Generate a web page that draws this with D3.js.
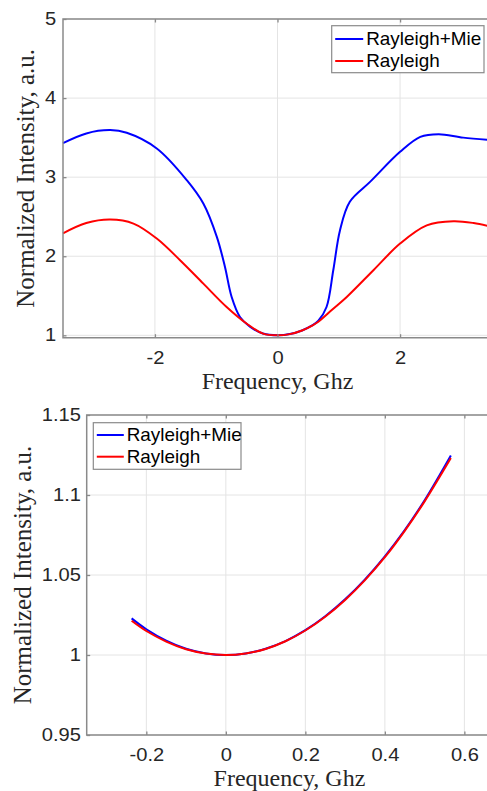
<!DOCTYPE html>
<html>
<head>
<meta charset="utf-8">
<script src="https://cdn.jsdelivr.net/npm/d3@7"></script>
<style>
  body { margin: 0; background: #fff; }
  svg { display: block; }
</style>
</head>
<body>
<svg id="chart" width="487" height="791"></svg>
<script>
// ---- Full spectrum (upper panel) ----
const fullMieFreq = [-3.5, -3.12, -2.73, -2.46, -1.97, -1.48, -1.21, -0.99, -0.857, -0.748,
  -0.612, -0.45, -0.237, 0, 0.2, 0.4, 0.566, 0.667, 0.8, 0.91, 1.02, 1.18, 1.51, 2.0, 2.33,
  2.63, 3.03, 3.5];
const fullMie = [3.43, 3.553, 3.595, 3.561, 3.363, 2.962, 2.667, 2.245, 1.865, 1.485,
  1.232, 1.11, 1.0229, 1.0, 1.0155, 1.0617, 1.1247, 1.185, 1.358, 1.823, 2.33, 2.69, 2.94, 3.32, 3.51,
  3.544, 3.50, 3.47];
const fullRayFreq = [-3.5, -3.12, -2.73, -2.35, -1.97, -1.59, -1.21, -0.83, -0.5, -0.237, 0,
  0.2, 0.4, 0.566, 0.667, 0.9, 1.13, 1.565, 2.0, 2.435, 2.87, 3.2, 3.5];
const fullRay = [2.29, 2.42, 2.464, 2.413, 2.224, 1.95, 1.654, 1.358, 1.146, 1.0214, 1.0,
  1.0153, 1.0611, 1.1231, 1.172, 1.33, 1.485, 1.823, 2.16, 2.39, 2.443, 2.42, 2.37];
const fullXTicks = [-2, 0, 2];
const fullXLabels = ["-2", "0", "2"];
const fullYTicks = [1, 2, 3, 4, 5];
const fullYLabels = ["1", "2", "3", "4", "5"];

// ---- Central region (lower panel) ----
const zoomFreq = [-0.237, -0.2, -0.15, -0.1, -0.05, 0, 0.05, 0.1, 0.15, 0.2, 0.25, 0.3, 0.35,
  0.4, 0.45, 0.5, 0.566];
const zoomMie = [1.0229, 1.0161, 1.0090, 1.0039, 1.0010, 1.0, 1.0010, 1.0039, 1.0087, 1.0155,
  1.0242, 1.0348, 1.0473, 1.0617, 1.0781, 1.0967, 1.1247];
const zoomRay = [1.0214, 1.0150, 1.0084, 1.0036, 1.0009, 1.0, 1.0010, 1.0038, 1.0086, 1.0153,
  1.0239, 1.0344, 1.0468, 1.0611, 1.0776, 1.0960, 1.1231];
const zoomXTicks = [-0.2, 0, 0.2, 0.4, 0.6];
const zoomXLabels = ["-0.2", "0", "0.2", "0.4", "0.6"];
const zoomYTicks = [0.95, 1, 1.05, 1.1, 1.15];
const zoomYLabels = ["0.95", "1", "1.05", "1.1", "1.15"];

const seriesNames = ["Rayleigh+Mie", "Rayleigh"];
const seriesColors = ["#0000ff", "#ff0000"];
const xTitle = "Frequency, Ghz";
const yTitle = "Normalized Intensity, a.u.";

const svg = d3.select("#chart");
const AXIS = "#8a8a8a", GRID = "#e4e4e4", TEXT = "#262626";
const SANS = "'Liberation Sans', Arial, sans-serif";
const SERIF = "'Liberation Serif', 'Times New Roman', serif";

function panel(cfg) {
  const x = d3.scaleLinear().domain(cfg.xDomain).range([cfg.left, cfg.right]);
  const y = d3.scaleLinear().domain(cfg.yDomain).range([cfg.bottom, cfg.top]);
  const g = svg.append("g");

  // grid
  g.append("g").selectAll("line").data(cfg.xTicks).join("line")
    .attr("x1", d => x(d)).attr("x2", d => x(d))
    .attr("y1", cfg.top).attr("y2", cfg.bottom)
    .attr("stroke", GRID).attr("stroke-width", 1);
  g.append("g").selectAll("line").data(cfg.yTicks).join("line")
    .attr("x1", cfg.left).attr("x2", cfg.right)
    .attr("y1", d => y(d)).attr("y2", d => y(d))
    .attr("stroke", GRID).attr("stroke-width", 1);

  // curves
  const line = d3.line().x(d => x(d[0])).y(d => y(d[1])).curve(d3.curveCatmullRom.alpha(0.5));
  cfg.series.forEach((s, i) => {
    g.append("path")
      .datum(s.freq.map((f, k) => [f, s.vals[k]]))
      .attr("fill", "none")
      .attr("stroke", seriesColors[i])
      .attr("stroke-width", 2)
      .attr("stroke-linejoin", "round")
      .attr("d", line);
  });

  // axes
  const styleAxis = sel => {
    sel.select(".domain").remove();
    sel.selectAll(".tick line").attr("stroke", AXIS).attr("stroke-width", 1.3);
  };
  const bottomAxis = g.append("g").attr("transform", `translate(0,${cfg.bottom})`)
    .call(d3.axisBottom(x).tickValues(cfg.xTicks).tickFormat((d, i) => cfg.xLabels[i])
      .tickSizeInner(-3.5).tickSizeOuter(0).tickPadding(14));
  styleAxis(bottomAxis);
  bottomAxis.selectAll("text")
    .attr("font-family", SANS).attr("font-size", 17.5).attr("fill", TEXT)
    .attr("transform", "scale(1.15,1)");

  const topAxis = g.append("g").attr("transform", `translate(0,${cfg.top})`)
    .call(d3.axisTop(x).tickValues(cfg.xTicks).tickFormat("")
      .tickSizeInner(-3.5).tickSizeOuter(0));
  styleAxis(topAxis);

  const leftAxis = g.append("g").attr("transform", `translate(${cfg.left},0)`)
    .call(d3.axisLeft(y).tickValues(cfg.yTicks).tickFormat((d, i) => cfg.yLabels[i])
      .tickSizeInner(-3.5).tickSizeOuter(0).tickPadding(cfg.yPad));
  styleAxis(leftAxis);
  leftAxis.selectAll("text")
    .attr("font-family", SANS).attr("font-size", 17.5).attr("fill", TEXT)
    .attr("transform", "scale(1.15,1)");

  // frame: left, top, bottom
  g.append("path")
    .attr("d", `M${cfg.right},${cfg.top}H${cfg.left}V${cfg.bottom}H${cfg.right}`)
    .attr("fill", "none").attr("stroke", AXIS).attr("stroke-width", 1.5);

  // titles
  g.append("text")
    .attr("x", (cfg.left + cfg.right) / 2).attr("y", cfg.xTitleY)
    .attr("text-anchor", "middle")
    .attr("font-family", SERIF).attr("font-size", 24).attr("fill", TEXT)
    .text(xTitle);
  g.append("text")
    .attr("transform", `translate(${cfg.yTitleX},${(cfg.top + cfg.bottom) / 2}) rotate(-90)`)
    .attr("text-anchor", "middle")
    .attr("font-family", SERIF).attr("font-size", 25).attr("fill", TEXT)
    .text(yTitle);

  // legend
  const L = cfg.legend;
  const lg = g.append("g");
  lg.append("rect")
    .attr("x", L.x).attr("y", L.y).attr("width", L.w).attr("height", L.h)
    .attr("fill", "#fff").attr("stroke", AXIS).attr("stroke-width", 1.2);
  seriesNames.forEach((name, i) => {
    const ry = L.y + L.rowStart + i * L.rowGap;
    lg.append("line")
      .attr("x1", L.x + 3.5).attr("x2", L.x + 3.5 + L.lineLen)
      .attr("y1", ry).attr("y2", ry)
      .attr("stroke", seriesColors[i]).attr("stroke-width", 2);
    lg.append("text")
      .attr("transform", `translate(${L.x + L.textOff},${ry + 6.2}) scale(1.08,1)`)
      .attr("font-family", SANS).attr("font-size", 17.5).attr("fill", "#000")
      .text(name);
  });
}

panel({
  xDomain: [-3.5, 3.5], yDomain: [0.97, 5],
  left: 63, right: 492, top: 19, bottom: 337.7,
  series: [{ freq: fullMieFreq, vals: fullMie }, { freq: fullRayFreq, vals: fullRay }],
  xTicks: fullXTicks, xLabels: fullXLabels, yTicks: fullYTicks, yLabels: fullYLabels,
  yPad: 6, xTitleY: 389, yTitleX: 34,
  legend: { x: 331.7, y: 25.7, w: 152.3, h: 47, rowStart: 13.3, rowGap: 22, lineLen: 28, textOff: 34.5 }
});

panel({
  xDomain: [-0.35, 0.67], yDomain: [0.95, 1.15],
  left: 86.7, right: 492.2, top: 415, bottom: 735,
  series: [{ freq: zoomFreq, vals: zoomMie }, { freq: zoomFreq, vals: zoomRay }],
  xTicks: zoomXTicks, xLabels: zoomXLabels, yTicks: zoomYTicks, yLabels: zoomYLabels,
  yPad: 5, xTitleY: 786, yTitleX: 31,
  legend: { x: 93.3, y: 422.7, w: 147.7, h: 46.6, rowStart: 12.3, rowGap: 21.7, lineLen: 27, textOff: 33.4 }
});
</script>
</body>
</html>
